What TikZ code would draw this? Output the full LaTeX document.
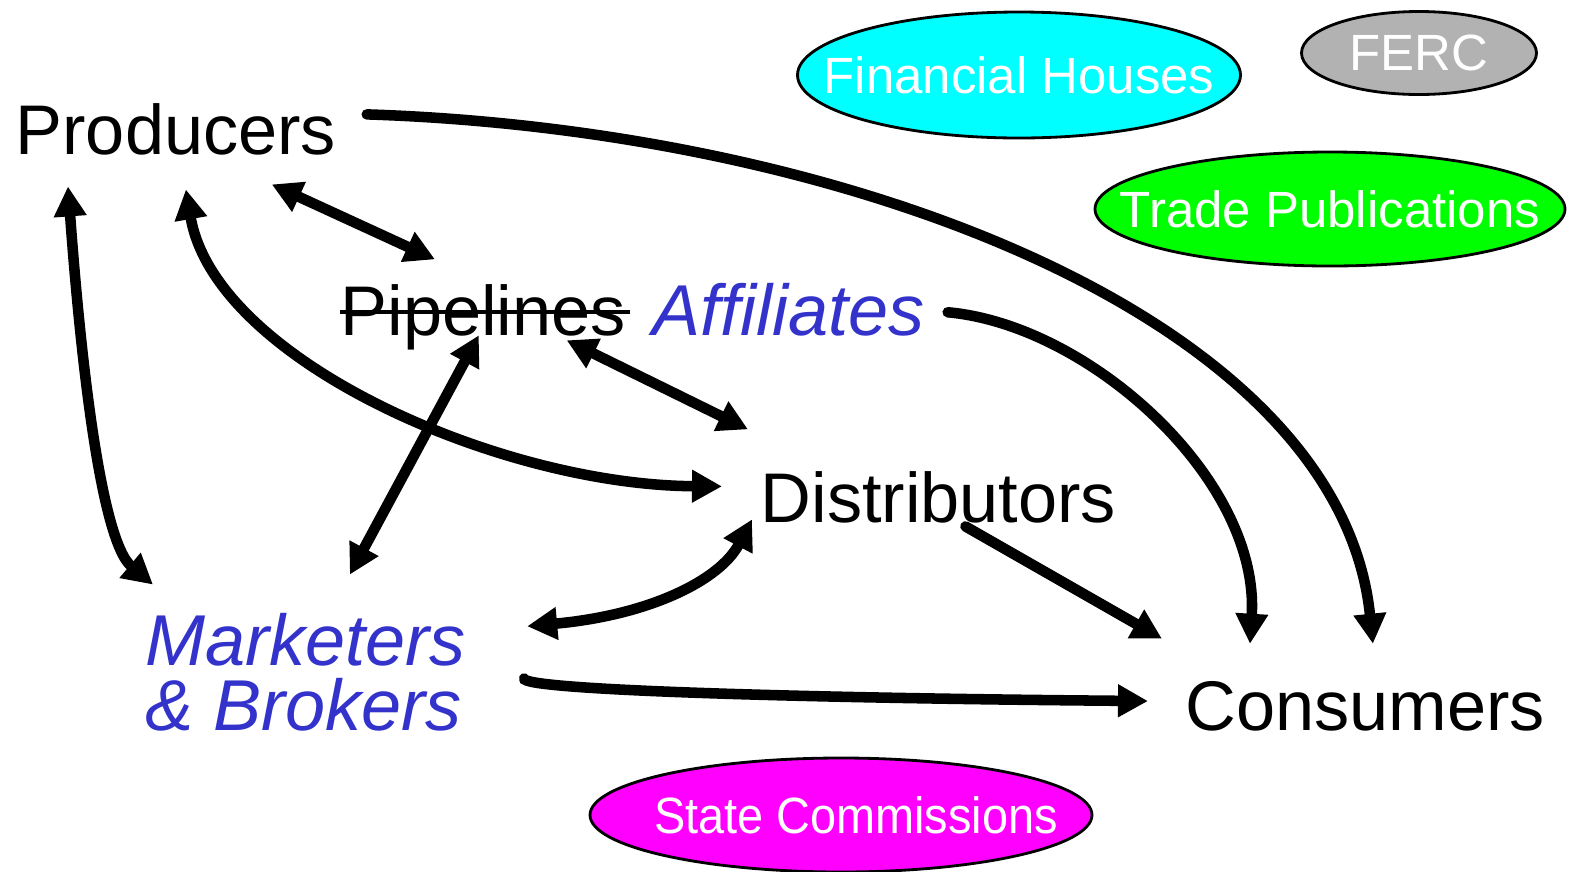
\documentclass[tikz,border=0pt]{standalone}
\usepackage{fontspec}
\setmainfont{Liberation Sans}
\usepackage{xcolor}
\usepackage{graphicx}
\usetikzlibrary{arrows.meta, shapes.geometric, positioning}
\definecolor{sideblue}{RGB}{51,51,204}
\definecolor{fercgray}{RGB}{178,178,178}
\definecolor{fincyan}{RGB}{0,255,255}
\definecolor{tradegreen}{RGB}{0,255,0}
\definecolor{statemagenta}{RGB}{255,0,255}

\begin{document}
\begin{tikzpicture}[
        actor/.style={inner sep=0pt, anchor=base west, font=\fontsize{20}{24}\selectfont},
        side/.style={actor, text=sideblue, font=\fontsize{20.5}{24}\selectfont\itshape},
        party/.style={ellipse, draw, line width=0.8pt, text=white, inner sep=0pt, font=\fontsize{14.5}{17}\selectfont},
        flow/.style={line width=3pt, line cap=round, -{Triangle[length=3mm,width=3.1mm]}},
        both/.style={flow, {Triangle[length=3mm,width=3.1mm]}-{Triangle[length=3mm,width=3.1mm]}}
    ]
        \useasboundingbox (0,0) rectangle (15.78,-8.71);

        \node[actor] (prod) at (0.15, -1.54) {Producers};
        \node[actor] (pipe) at (3.40, -3.35) {Pipelines};
        \node[side] (aff) at (6.52, -3.35) {Affiliates};
        \node[actor] (dist) at (7.60, -5.22) {Distributors};
        \node[side] (mark) at (1.45, -6.65) {Marketers};
        \node[side] (brok) at (1.45, -7.30) {\& Brokers};
        \node[actor] (cons) at (11.85, -7.30) {Consumers};
        \draw[line width=0.9pt] ([yshift=0.23cm]pipe.base west) -- ([shift={(0.03,0.23)}]pipe.base east);

        \node[party, fill=fincyan, minimum width=4.43cm, minimum height=1.26cm] (fin) at (10.19, -0.75) {\makebox[0pt]{Financial Houses}};
        \node[party, fill=fercgray, minimum width=2.35cm, minimum height=0.83cm] (ferc) at (14.19, -0.53) {\makebox[0pt]{FERC}};
        \node[party, fill=tradegreen, minimum width=4.70cm, minimum height=1.14cm] (trade) at (13.30, -2.09) {\makebox[0pt]{Trade Publications}};
        \node[party, fill=statemagenta, minimum width=5.02cm, minimum height=1.14cm] (state) at (8.41, -8.15) {\makebox[0pt]{\hspace{0.3cm}\scalebox{0.92}[1]{State Commissions}}};

        \draw[flow] ([shift={(0.30,0.145)}]prod.east) .. controls (8.5,-1.3) and (13.4,-3.2) .. ([shift={(0.075,0.365)}]cons.north);
        \draw[both] ([shift={(-0.65,-0.29)}]prod.south east) to ([shift={(0.95,0.24)}]pipe.north west);
        \draw[both] ([shift={(0.53,-0.31)}]prod.south west) .. controls (0.80,-3.5) and (1.0,-5.4) .. ([shift={(0.08,0.275)}]mark.north west);
        \draw[both] ([shift={(0.10,-0.34)}]prod.south) .. controls (2.15,-3.6) and (5.0,-4.85) .. ([shift={(-0.38,0.105)}]dist.west);
        \draw[both] ([shift={(-0.60,0.10)}]pipe.south east) to ([shift={(-0.12,0.41)}]dist.north west);
        \draw[both] ([shift={(-0.045,0.15)}]pipe.south) to ([shift={(0.44,0.375)}]mark.north);
        \draw[flow] ([shift={(0.22,-0.03)}]aff.east) .. controls (10.9,-3.25) and (12.6,-4.8) .. ([shift={(0.65,0.365)}]cons.north west);
        \draw[flow] ([shift={(0.27,-0.03)}]dist.south) to ([shift={(-0.23,0.415)}]cons.north west);
        \draw[both] ([shift={(0.605,0.13)}]mark.east) .. controls (6.5,-6.15) and (7.2,-5.8) .. ([shift={(-0.08,0.04)}]dist.south west);
        \draw[flow] ([shift={(0.575,-0.12)}]mark.south east) .. controls (5.2,-6.9) and (8.0,-6.98) .. ([shift={(-0.37,0.0475)}]cons.west);
    \end{tikzpicture}
\end{document}
